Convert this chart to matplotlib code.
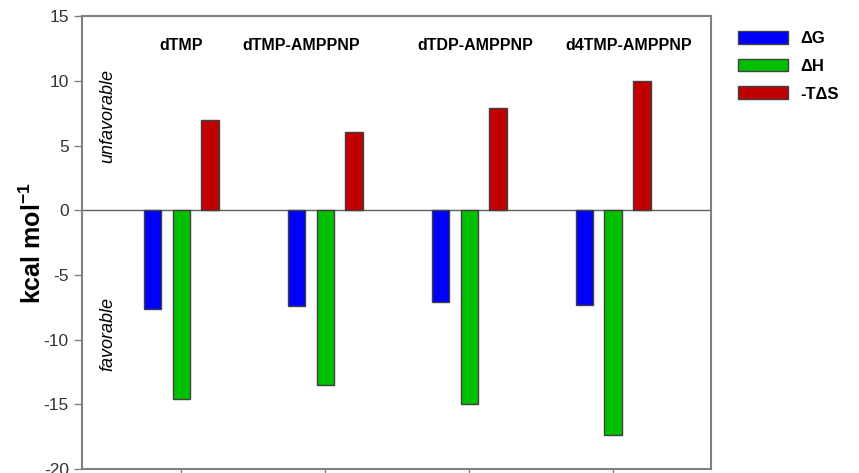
import matplotlib.pyplot as plt
import numpy as np
from matplotlib.patches import Patch

plt.rcParams["font.family"] = ["Liberation Sans", "DejaVu Sans"]
plt.rcParams["axes.unicode_minus"] = False
plt.rcParams["mathtext.fontset"] = "custom"
plt.rcParams["mathtext.rm"] = "Liberation Sans"
plt.rcParams["mathtext.bf"] = "Liberation Sans:bold"

ligands = ["dTMP", "dTMP-AMPPNP", "dTDP-AMPPNP", "d4TMP-AMPPNP"]
delta_g = [-7.6, -7.4, -7.1, -7.35]
delta_h = [-14.6, -13.5, -15.0, -17.4]
minus_t_delta_s = [7.0, 6.05, 7.9, 10.0]
series_labels = ["\u0394G", "\u0394H", "-T\u0394S"]
series_colors = ["#0000ff", "#00c000", "#c00000"]
# label centres, nudged like the original figure
label_x = [0.0, 0.83, 2.04, 3.11]

fig = plt.figure(figsize=(8.59, 4.73), dpi=100)
ax = fig.add_axes([0.0955, 0.0085, 0.7322, 0.957])

x = np.arange(len(ligands))
width = 0.12
offsets = [-0.2, 0.0, 0.2]
for values, color, off in zip([delta_g, delta_h, minus_t_delta_s], series_colors, offsets):
    ax.bar(x + off, values, width, color=color, edgecolor="#404040", linewidth=1, zorder=3)

ax.axhline(0, color="#606060", linewidth=1, zorder=2)

ax.set_xlim(-0.69, 3.68)
ax.set_ylim(-20, 15)
ax.set_yticks(range(-20, 16, 5))
ax.set_xticks(x)
ax.set_xticklabels([])
ax.tick_params(axis="y", direction="out", length=6, width=1, colors="#808080",
               labelcolor="#333333", labelsize=12.5)
ax.tick_params(axis="x", direction="out", length=6, width=1, colors="#808080")
for spine in ax.spines.values():
    spine.set_color("#808080")
    spine.set_linewidth(1.5)

ax.set_ylabel("kcal mol$^{\\mathbf{-1}}$", fontsize=18, fontweight="bold", labelpad=-2)

for lx, name in zip(label_x, ligands):
    ax.text(lx, 12.75, name, ha="center", va="center", fontsize=11.5, fontweight="bold")

ax.text(-0.51, 7.3, "unfavorable", rotation=90, style="italic", fontsize=13,
        ha="center", va="center")
ax.text(-0.51, -9.6, "favorable", rotation=90, style="italic", fontsize=13,
        ha="center", va="center")

handles = [Patch(facecolor=c, edgecolor="#404040", linewidth=1) for c in series_colors]
fig.legend(handles, series_labels, loc="upper left", bbox_to_anchor=(0.842, 0.966),
           frameon=False, handlelength=3.0, handleheight=0.8, labelspacing=0.75,
           handletextpad=0.7, prop={"size": 12, "weight": "bold"})

fig.savefig("out.png", dpi=100)
